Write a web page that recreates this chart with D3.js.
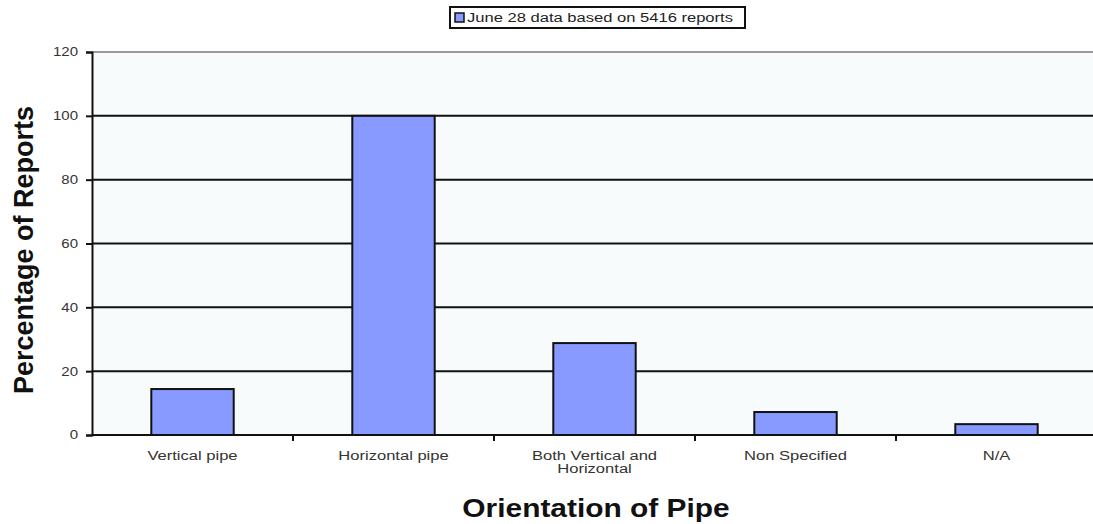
<!DOCTYPE html>
<html>
<head>
<meta charset="utf-8">
<script src="https://cdn.jsdelivr.net/npm/d3@7"></script>
<style>
  html, body { margin: 0; padding: 0; background: #fff; }
  svg { display: block; font-family: "Liberation Sans", Arial, sans-serif; }
</style>
</head>
<body>
<svg id="chart" width="1093" height="524"></svg>
<script>
// Orientation of pipe, share of reports (%)
const categories = ["Vertical pipe", "Horizontal pipe", "Both Vertical and\nHorizontal", "Non Specified", "N/A"];
const values = [14.4, 100, 28.8, 7.2, 3.4];
const yTicks = [0, 20, 40, 60, 80, 100, 120];
const seriesName = "June 28 data based on 5416 reports";

const svg = d3.select("#chart");
const plotL = 92, plotR = 1097, plotT = 52, plotB = 435;
const wide = 1.38;   // horizontal stretch of the small labels

const x = d3.scaleBand().domain(categories).range([plotL, plotR]).paddingInner(0).paddingOuter(0);
const y = d3.scaleLinear().domain([0, 120]).range([plotB, plotT]);

// text placed at (px, py) and stretched horizontally about that point
function wideText(g, px, py, sx) {
  return g.append("text").attr("transform", `translate(${px},${py}) scale(${sx},1)`);
}

// plot background
svg.append("rect").attr("x", plotL).attr("y", plotT).attr("width", plotR - plotL).attr("height", plotB - plotT)
  .attr("fill", "#f7fbfc");

// horizontal gridlines
svg.append("g").selectAll("line").data(yTicks.filter(d => d > 0)).join("line")
  .attr("x1", plotL).attr("x2", plotR)
  .attr("y1", d => y(d)).attr("y2", d => y(d))
  .attr("stroke", d => d === 120 ? "#999" : "#111")
  .attr("stroke-width", 2);

// bars
const barW = x.bandwidth() * 0.41;
svg.append("g").selectAll("rect").data(values).join("rect")
  .attr("x", (d, i) => x(categories[i]) + x.bandwidth() / 2 - barW / 2)
  .attr("y", d => y(d))
  .attr("width", barW)
  .attr("height", d => plotB - y(d))
  .attr("fill", "#8899ff")
  .attr("stroke", "#111")
  .attr("stroke-width", 2);

// y axis
const yAxis = svg.append("g").attr("transform", `translate(${plotL},0)`)
  .call(d3.axisLeft(y).tickValues(yTicks).tickSize(6).tickPadding(5));
yAxis.select(".domain").attr("stroke", "#111").attr("stroke-width", 2);
yAxis.selectAll(".tick line").attr("stroke", "#111").attr("stroke-width", 2);
yAxis.selectAll(".tick text")
  .attr("x", -14 / 1.25)
  .attr("transform", "scale(1.25,1)")
  .attr("font-size", 12).attr("fill", "#333")
  .attr("font-family", "'Liberation Sans', Arial, sans-serif");

// x axis: baseline with ticks at category boundaries
const xg = svg.append("g");
xg.append("line").attr("x1", plotL).attr("x2", plotR).attr("y1", plotB).attr("y2", plotB)
  .attr("stroke", "#111").attr("stroke-width", 2);
xg.selectAll("line.tk").data(categories.slice(1)).join("line").attr("class", "tk")
  .attr("x1", d => x(d)).attr("x2", d => x(d))
  .attr("y1", plotB).attr("y2", plotB + 6)
  .attr("stroke", "#111").attr("stroke-width", 2);
categories.forEach(c => {
  const t = wideText(xg, x(c) + x.bandwidth() / 2, 460, wide)
    .attr("text-anchor", "middle").attr("font-size", 12).attr("fill", "#333");
  c.split("\n").forEach((line, i) => {
    t.append("tspan").attr("x", 0).attr("dy", i === 0 ? 0 : 13).text(line);
  });
});

// axis titles
wideText(svg, 596, 517, 1.15).attr("text-anchor", "middle")
  .attr("font-size", 26).attr("font-weight", "bold").attr("fill", "#111")
  .text("Orientation of Pipe");
svg.append("text").attr("transform", "translate(33,250) rotate(-90)").attr("text-anchor", "middle")
  .attr("font-size", 27).attr("font-weight", "bold").attr("fill", "#111")
  .text("Percentage of Reports");

// legend
const lg = svg.append("g");
lg.append("rect").attr("x", 450).attr("y", 7).attr("width", 295).attr("height", 21)
  .attr("fill", "#fff").attr("stroke", "#111").attr("stroke-width", 2);
lg.append("rect").attr("x", 455).attr("y", 13).attr("width", 9).attr("height", 9)
  .attr("fill", "#8899ff").attr("stroke", "#111").attr("stroke-width", 1.5);
wideText(lg, 467, 22, wide).attr("font-size", 12).attr("fill", "#222")
  .text(seriesName);
</script>
</body>
</html>
